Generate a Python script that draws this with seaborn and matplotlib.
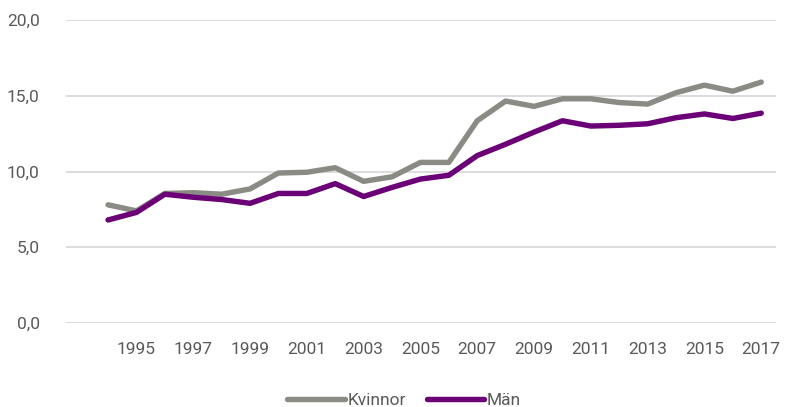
import matplotlib
matplotlib.use("Agg")
import matplotlib.pyplot as plt
import numpy as np
import pandas as pd
import seaborn as sns

years = list(range(1994, 2018))
kvinnor = [7.8, 7.4, 8.55, 8.6, 8.5, 8.85, 9.9, 9.95, 10.25, 9.35, 9.65, 10.6,
           10.6, 13.35, 14.65, 14.3, 14.8, 14.8, 14.55, 14.45, 15.2, 15.7, 15.3, 15.9]
man = [6.8, 7.3, 8.5, 8.3, 8.15, 7.9, 8.55, 8.55, 9.2, 8.35, 8.95, 9.5,
       9.75, 11.05, 11.8, 12.6, 13.35, 13.0, 13.05, 13.15, 13.55, 13.8, 13.5, 13.85]
series_names = ["Kvinnor", "Män"]
colors = {"Kvinnor": "#8a8b85", "Män": "#6b0077"}
tick_years = list(range(1995, 2018, 2))
y_ticks = [0, 5, 10, 15, 20]

df = pd.DataFrame({
    "year": years * 2,
    "value": kvinnor + man,
    "serie": [series_names[0]] * len(years) + [series_names[1]] * len(years),
})

sns.set_theme(style="white")
plt.rcParams["font.family"] = ["Roboto", "DejaVu Sans"]

fig = plt.figure(figsize=(7.88, 4.07), dpi=100)
ax = fig.add_axes([66 / 788, 1 - 323 / 407, 710 / 788, 303 / 407])

sns.lineplot(data=df, x="year", y="value", hue="serie", palette=colors,
             linewidth=3.9, ax=ax, legend=True)

ax.set_xlim(1992.52, 2017.52)
ax.set_ylim(0, 20)
ax.set_yticks(y_ticks)
ax.set_yticklabels([f"{v:.1f}".replace(".", ",") for v in y_ticks])
ax.set_xticks(tick_years)
ax.set_xticklabels([str(y) for y in tick_years])
ax.yaxis.grid(True, color="#d9d9d9", linewidth=1.3)
ax.set_axisbelow(True)
for s in ax.spines.values():
    s.set_visible(False)
ax.tick_params(axis="both", length=0, labelsize=12.5, labelcolor="#595959")
ax.tick_params(axis="y", pad=19)
ax.tick_params(axis="x", pad=14)
ax.set_xlabel("")
ax.set_ylabel("")

# legend sits a bit left of the axes centre in the original
handles, labels = ax.get_legend_handles_labels()
ax.legend(handles, labels, loc="center", bbox_to_anchor=(0.476, -0.255),
          ncol=2, frameon=False, fontsize=12.5, handlelength=3.3,
          handletextpad=0.15, columnspacing=1.2, labelcolor="#595959")

fig.savefig("out.png", dpi=100)
